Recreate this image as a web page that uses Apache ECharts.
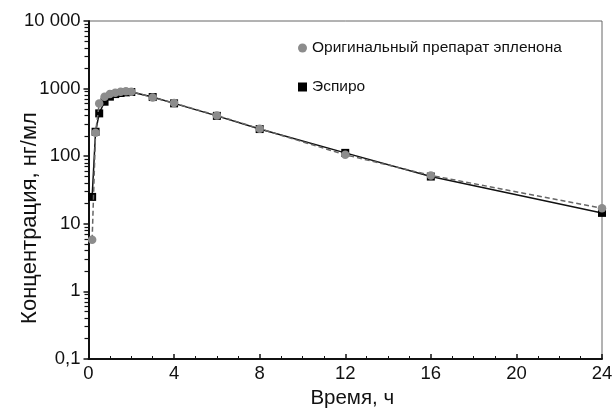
<!DOCTYPE html>
<html>
<head>
<meta charset="utf-8">
<script src="https://cdn.jsdelivr.net/npm/echarts@6/dist/echarts.min.js"></script>
<style>html,body{margin:0;padding:0;background:#fff}#c{width:614px;height:417px}</style>
</head>
<body>
<div id="c"></div>
<script>
var times = [0.17, 0.33, 0.5, 0.75, 1, 1.25, 1.5, 1.75, 2, 3, 4, 6, 8, 12, 16, 24];
var original = [5.8, 222, 600, 760, 830, 870, 900, 910, 900, 740, 610, 400, 255, 105, 52, 17];
var espiro = [25, 230, 430, 640, 760, 830, 860, 880, 890, 750, 605, 395, 252, 112, 50, 14.5];
var seriesNames = ['Оригинальный препарат эпленона', 'Эспиро'];
var yTickValues = [0.1, 1, 10, 100, 1000, 10000];
var yTickLabels = ['0,1', '1', '10', '100', '1000', '10 000'];
var xTitle = 'Время, ч';
var yTitle = 'Концентрация, нг/мл';

function pairs(ys) { return times.map(function (t, i) { return [t, ys[i]]; }); }
var yMinor = [];
for (var d = 0; d < yTickValues.length - 1; d++) {
  for (var m = 2; m <= 9; m++) yMinor.push(+(yTickValues[d] * m).toPrecision(6));
}

var font = '"Liberation Sans", Arial, sans-serif';
var chart = echarts.init(document.getElementById('c'));
chart.setOption({
  animation: false,
  grid: { left: 88.5, right: 12, top: 21, bottom: 58, outerBoundsMode: 'none', containLabel: false,
          show: true, borderColor: '#666', borderWidth: 1, backgroundColor: 'transparent' },
  legend: {
    orient: 'vertical', left: 293, top: 35, itemGap: 23, itemWidth: 9, itemHeight: 9,
    textStyle: { fontFamily: font, fontSize: 15.5, color: '#111' },
    data: [
      { name: seriesNames[0], icon: 'circle', itemStyle: { color: '#8c8c8c' } },
      { name: seriesNames[1], icon: 'rect', itemStyle: { color: '#000' } }
    ]
  },
  graphic: [{
    type: 'text', x: 30, y: 218, rotation: Math.PI / 2,
    style: { text: yTitle, fontFamily: font, fontSize: 22, fill: '#111', align: 'center', verticalAlign: 'middle' }
  }],
  xAxis: {
    type: 'value', min: 0, max: 24, interval: 4,
    name: xTitle, nameLocation: 'middle', nameGap: 17,
    nameTextStyle: { fontFamily: font, fontSize: 20.5, color: '#111', padding: [0, 0, 0, 14] },
    axisLine: { lineStyle: { color: '#111', width: 2 } },
    axisTick: { inside: true, length: 5, lineStyle: { color: '#111', width: 1.5 } },
    minorTick: { show: true, splitNumber: 4, length: 3, lineStyle: { color: '#111' } },
    axisLabel: { fontFamily: font, fontSize: 18.5, color: '#111', margin: 5 },
    splitLine: { show: false }
  },
  yAxis: [{
    type: 'log', logBase: 10, min: 0.1, max: 10000,
    axisLine: { lineStyle: { color: '#111', width: 2 } },
    axisTick: { length: 5, lineStyle: { color: '#111', width: 1.5 } },
    axisLabel: {
      fontFamily: font, fontSize: 18.5, color: '#111', margin: 8,
      formatter: function (v) {
        for (var i = 0; i < yTickValues.length; i++) if (Math.abs(v / yTickValues[i] - 1) < 1e-6) return yTickLabels[i];
        return '';
      }
    },
    splitLine: { show: false }
  }, {
    type: 'log', logBase: 10, min: 0.1, max: 10000, position: 'left',
    axisLine: { show: false },
    axisTick: { show: true, inside: false, length: 4, customValues: yMinor, lineStyle: { color: '#111', width: 1.2 } },
    axisLabel: { show: false },
    splitLine: { show: false }
  }],
  series: [
    {
      name: seriesNames[1], type: 'line', data: pairs(espiro), z: 2,
      symbol: 'rect', symbolSize: 8,
      itemStyle: { color: '#000' },
      lineStyle: { color: '#111', width: 1.5, type: 'solid' }
    },
    {
      name: seriesNames[0], type: 'line', data: pairs(original), z: 3,
      symbol: 'circle', symbolSize: 8.5,
      itemStyle: { color: '#8c8c8c' },
      lineStyle: { color: '#666', width: 1.5, type: [5, 3] }
    }
  ]
});
</script>
</body>
</html>
